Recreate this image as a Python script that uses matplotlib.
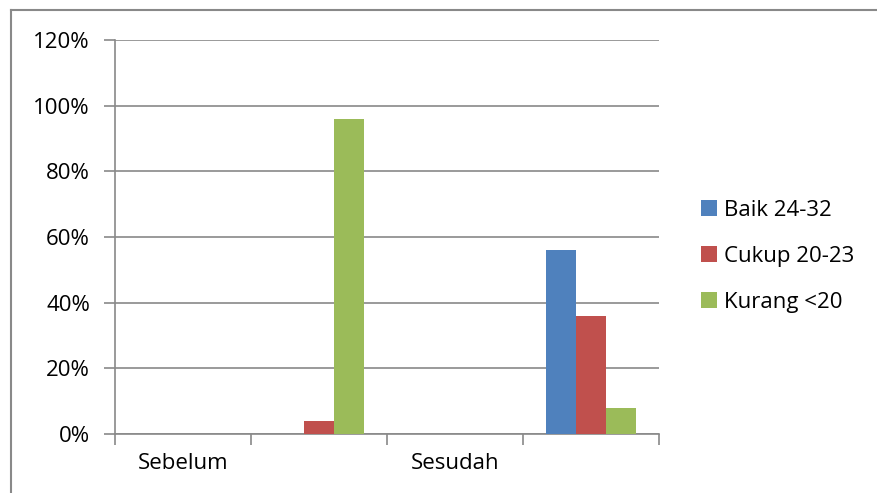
import numpy as np
import matplotlib
matplotlib.use("Agg")
import matplotlib.pyplot as plt
from matplotlib.lines import Line2D

# four category slots as in the source sheet; two of them hold the labels, two the values
categories = ["Sebelum", "", "Sesudah", ""]
baik = [np.nan, 0.00, np.nan, 0.56]
cukup = [np.nan, 0.04, np.nan, 0.36]
kurang = [np.nan, 0.96, np.nan, 0.08]
series_names = ["Baik 24-32", "Cukup 20-23", "Kurang <20"]
yticks = [0.0, 0.2, 0.4, 0.6, 0.8, 1.0, 1.2]

COLS = ["#4F81BD", "#C0504D", "#9BBB59"]
GRID = "#898989"

plt.rcParams.update({"font.family": ["Open Sans", "DejaVu Sans"], "font.size": 16})
fig = plt.figure(figsize=(8.77, 4.93), dpi=100)
ax = fig.add_axes([115 / 877, 1 - 434 / 493, 544 / 877, 394 / 493])

x = np.arange(len(categories)) + 0.5
w = 0.223
for i, (vals, c, name) in enumerate(zip([baik, cukup, kurang], COLS, series_names)):
    v = np.nan_to_num(np.array(vals, float))
    ax.bar(x + (i - 1) * w, v, w, color=c, label=name, zorder=3)

ax.set_xlim(0, len(categories)); ax.set_ylim(0, 1.2)
ax.set_yticks(yticks)
ax.set_yticklabels([f"{int(round(t * 100))}%" for t in yticks])
ax.yaxis.grid(True, color=GRID, lw=1.2, zorder=0)
ax.set_xticks(np.arange(len(categories) + 1))
ax.set_xticklabels([])
ax.set_xticks(x, minor=True)
ax.set_xticklabels(categories, minor=True)
ax.tick_params(axis="x", which="major", length=8, width=1.2, color=GRID, direction="out")
ax.tick_params(axis="x", which="minor", length=0, pad=14, labelsize=16)
ax.tick_params(axis="y", length=8, width=1.2, color=GRID, pad=10, labelsize=16)
for s in ["top", "right"]:
    ax.spines[s].set_visible(False)
for s in ["left", "bottom"]:
    ax.spines[s].set_color(GRID); ax.spines[s].set_linewidth(1.2)

h, l = ax.get_legend_handles_labels()
fig.legend(h, l, loc="upper left", bbox_to_anchor=(681 / 877, 1 - 180 / 493), frameon=False,
           handlelength=0.7, handleheight=0.7, handletextpad=0.35, labelspacing=1.12, fontsize=16)

# chart-area frame (only top and left edges show in the crop)
fig.add_artist(Line2D([11 / 877, 11 / 877], [0, 1 - 10 / 493], color=GRID, lw=1.5))
fig.add_artist(Line2D([11 / 877, 1], [1 - 10 / 493, 1 - 10 / 493], color=GRID, lw=1.5))

fig.savefig("out.png", dpi=100)
